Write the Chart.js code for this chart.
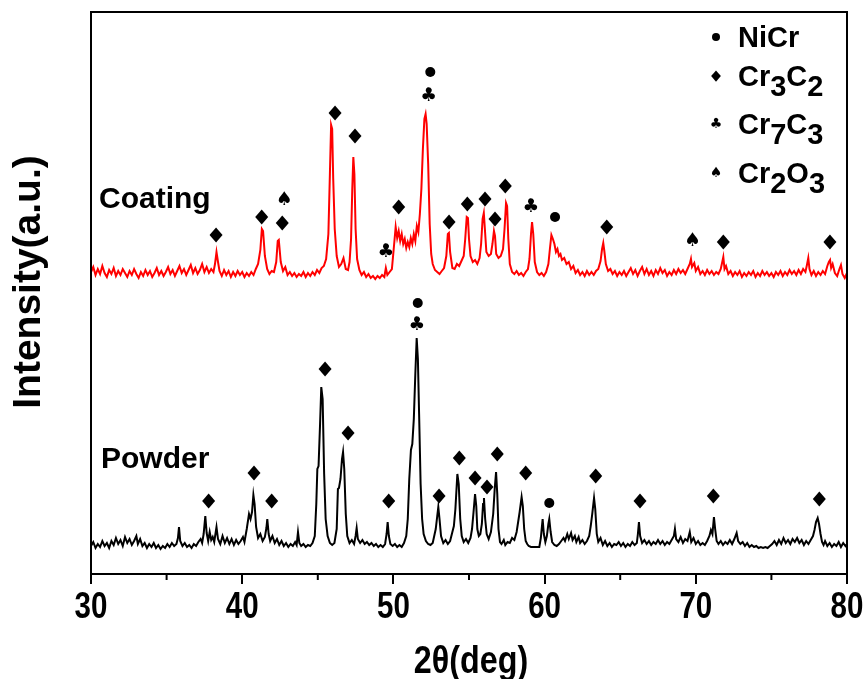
<!DOCTYPE html>
<html>
<head>
<meta charset="utf-8">
<script src="https://cdn.jsdelivr.net/npm/chart.js@4.4.1/dist/chart.umd.min.js"></script>
<style>
html,body{margin:0;padding:0;background:#fff;}
#wrap{width:864px;height:679px;}
</style>
</head>
<body>
<div id="wrap"><canvas id="c" width="864" height="679"></canvas></div>
<script>
// ---- DATA (2θ in degrees, intensity in arbitrary units) ----
const xTicks = [30, 40, 50, 60, 70, 80];
const xMinorTicks = [35, 45, 55, 65, 75];
const seriesNames = ['Coating', 'Powder'];
const xTitle = '2\u03b8(deg)';
const yTitle = 'Intensity(a.u.)';

const coatingData = [
[30.0,302],[30.15,307],[30.3,299],[30.45,305],[30.6,300],[30.75,308],[30.9,301],[31.05,297],[31.2,304],[31.35,300],
[31.5,306],[31.65,298],[31.8,303],[31.95,299],[32.1,305],[32.25,301],[32.4,297],[32.55,303],[32.7,299],[32.85,305],
[33.0,300],[33.15,296],[33.3,302],[33.45,298],[33.6,304],[33.75,299],[33.9,303],[34.05,297],[34.2,301],[34.35,306],
[34.5,299],[34.65,303],[34.8,298],[34.95,302],[35.1,307],[35.25,300],[35.4,304],[35.55,298],[35.7,303],[35.85,308],
[36.0,301],[36.15,305],[36.3,299],[36.45,304],[36.6,309],[36.75,301],[36.9,306],[37.05,300],[37.2,304],[37.35,310],
[37.5,302],[37.65,307],[37.8,301],[37.95,305],[38.1,302],[38.2,310],[38.3,322],[38.4,312],[38.5,303],[38.65,298],
[38.8,304],[38.95,299],[39.1,303],[39.25,297],[39.4,302],[39.55,298],[39.7,303],[39.85,299],[40.0,302],[40.15,297],
[40.3,301],[40.45,298],[40.6,302],[40.75,299],[40.9,305],[41.05,310],[41.2,324],[41.3,345],[41.38,343],[41.5,318],
[41.65,305],[41.8,300],[41.95,303],[42.1,302],[42.25,312],[42.35,333],[42.42,334],[42.55,312],[42.7,303],[42.85,307],
[43.0,299],[43.15,302],[43.3,298],[43.45,301],[43.6,297],[43.75,300],[43.9,298],[44.05,302],[44.2,297],[44.35,301],
[44.5,298],[44.65,302],[44.8,299],[44.95,304],[45.1,301],[45.25,306],[45.4,308],[45.55,315],[45.7,340],[45.8,400],
[45.88,449],[45.95,445],[46.02,395],[46.12,345],[46.25,318],[46.4,307],[46.55,310],[46.7,316],[46.85,305],[47.0,304],
[47.1,312],[47.2,335],[47.28,385],[47.35,417],[47.42,400],[47.5,345],[47.6,315],[47.75,304],[47.9,299],[48.05,302],
[48.2,297],[48.35,300],[48.5,296],[48.65,298],[48.8,295],[48.95,298],[49.1,296],[49.25,299],[49.4,297],[49.5,306],
[49.6,299],[49.75,302],[49.9,305],[50.05,330],[50.15,347],[50.25,336],[50.35,343],[50.45,333],[50.55,340],[50.65,330],
[50.75,335],[50.85,326],[50.95,332],[51.05,327],[51.15,336],[51.25,330],[51.35,340],[51.45,333],[51.55,348],[51.65,342],
[51.75,360],[51.85,385],[51.95,425],[52.05,455],[52.13,460],[52.2,450],[52.3,410],[52.4,350],[52.5,320],[52.6,310],
[52.75,304],[52.9,302],[53.05,300],[53.2,303],[53.35,306],[53.5,318],[53.6,340],[53.67,341],[53.75,322],[53.9,306],
[54.05,305],[54.2,310],[54.35,308],[54.5,313],[54.65,318],[54.75,335],[54.85,357],[54.93,356],[55.0,335],[55.1,318],
[55.25,312],[55.4,314],[55.55,310],[55.7,316],[55.8,330],[55.9,355],[55.98,361],[56.05,345],[56.15,322],[56.3,318],
[56.45,320],[56.55,330],[56.65,343],[56.72,338],[56.8,320],[56.95,316],[57.1,318],[57.25,325],[57.35,345],[57.45,371],
[57.52,368],[57.6,335],[57.7,310],[57.85,302],[58.0,300],[58.15,303],[58.3,299],[58.45,301],[58.6,298],[58.75,302],
[58.9,305],[59.0,315],[59.1,340],[59.17,352],[59.25,340],[59.35,312],[59.5,302],[59.65,299],[59.8,301],[59.95,298],
[60.1,302],[60.25,310],[60.35,325],[60.45,339],[60.55,335],[60.65,330],[60.75,322],[60.85,325],[60.95,318],[61.05,320],
[61.15,314],[61.3,316],[61.45,310],[61.6,312],[61.75,305],[61.9,308],[62.05,301],[62.2,304],[62.35,299],[62.5,302],
[62.65,298],[62.8,303],[62.95,299],[63.1,302],[63.25,299],[63.4,303],[63.55,305],[63.7,313],[63.8,325],[63.88,331],
[63.95,323],[64.05,310],[64.2,303],[64.35,305],[64.5,300],[64.65,303],[64.8,298],[64.95,302],[65.1,299],[65.25,303],
[65.4,298],[65.55,302],[65.7,306],[65.85,300],[66.0,304],[66.15,298],[66.3,303],[66.45,307],[66.6,300],[66.75,305],
[66.9,299],[67.05,303],[67.2,298],[67.35,304],[67.5,300],[67.65,306],[67.8,301],[67.95,304],[68.1,298],[68.25,302],
[68.4,299],[68.55,304],[68.7,300],[68.85,305],[69.0,301],[69.15,304],[69.3,300],[69.45,305],[69.6,310],[69.68,315],
[69.75,307],[69.9,311],[70.0,303],[70.15,307],[70.3,300],[70.45,303],[70.6,299],[70.75,304],[70.9,300],[71.05,303],
[71.2,299],[71.35,302],[71.5,300],[71.65,305],[71.75,312],[71.82,317],[71.9,305],[72.0,308],[72.15,300],[72.3,303],
[72.45,298],[72.6,302],[72.75,299],[72.9,303],[73.05,297],[73.2,301],[73.35,298],[73.5,302],[73.65,299],[73.8,303],
[73.95,297],[74.1,301],[74.25,298],[74.4,303],[74.55,299],[74.7,302],[74.85,298],[75.0,301],[75.15,297],[75.3,302],
[75.45,299],[75.6,303],[75.75,298],[75.9,302],[76.05,299],[76.2,304],[76.35,300],[76.5,303],[76.65,299],[76.8,304],
[76.95,300],[77.1,305],[77.25,302],[77.35,309],[77.44,316],[77.52,305],[77.65,299],[77.8,303],[77.95,298],[78.1,302],
[78.25,299],[78.4,303],[78.55,300],[78.7,308],[78.8,312],[78.88,314],[78.95,306],[79.05,310],[79.2,301],[79.35,298],
[79.5,305],[79.6,309],[79.7,300],[79.85,296],[80.0,301]
];

const powderData = [
[30.0,28],[30.15,32],[30.3,26],[30.45,30],[30.6,27],[30.75,33],[30.9,28],[31.05,31],[31.2,26],[31.35,33],
[31.5,29],[31.65,36],[31.8,30],[31.95,34],[32.1,28],[32.25,37],[32.4,31],[32.55,35],[32.7,29],[32.85,33],
[33.0,38],[33.1,30],[33.25,35],[33.4,28],[33.55,31],[33.7,26],[33.85,30],[34.0,27],[34.15,31],[34.3,26],
[34.45,29],[34.6,25],[34.75,28],[34.9,26],[35.05,30],[35.2,27],[35.35,31],[35.5,28],[35.65,30],[35.75,36],
[35.82,47],[35.9,33],[36.05,28],[36.2,31],[36.35,27],[36.5,29],[36.65,26],[36.8,30],[36.95,28],[37.1,32],
[37.25,35],[37.35,31],[37.45,40],[37.56,58],[37.65,41],[37.75,33],[37.85,42],[37.95,34],[38.05,37],[38.15,32],
[38.3,47],[38.4,35],[38.55,30],[38.7,38],[38.85,31],[39.0,36],[39.15,30],[39.3,35],[39.45,29],[39.6,34],
[39.75,30],[39.9,33],[40.05,37],[40.15,32],[40.3,45],[40.45,60],[40.55,55],[40.65,62],[40.74,79],[40.82,70],
[40.92,47],[41.05,36],[41.2,40],[41.35,33],[41.5,37],[41.6,46],[41.66,55],[41.75,40],[41.85,33],[42.0,38],
[42.15,31],[42.3,35],[42.45,29],[42.6,33],[42.75,28],[42.9,31],[43.05,27],[43.2,30],[43.35,28],[43.5,32],
[43.6,29],[43.69,42],[43.78,31],[43.9,28],[44.05,30],[44.2,27],[44.35,29],[44.5,28],[44.65,31],[44.8,38],
[44.9,70],[44.97,105],[45.05,108],[45.15,150],[45.23,187],[45.32,175],[45.42,100],[45.52,55],[45.65,38],[45.8,31],
[45.95,29],[46.1,31],[46.25,45],[46.33,85],[46.4,86],[46.5,95],[46.6,115],[46.67,122],[46.75,105],[46.85,60],
[46.95,38],[47.1,31],[47.25,34],[47.4,30],[47.5,38],[47.57,46],[47.65,35],[47.8,31],[47.95,34],[48.1,30],
[48.25,32],[48.4,29],[48.55,31],[48.7,28],[48.85,30],[49.0,27],[49.15,29],[49.3,27],[49.45,30],[49.55,40],
[49.62,52],[49.7,38],[49.8,30],[49.95,28],[50.1,30],[50.25,27],[50.4,29],[50.55,27],[50.7,31],[50.85,38],
[50.95,55],[51.05,95],[51.16,124],[51.25,130],[51.35,155],[51.45,200],[51.54,236],[51.62,215],[51.7,160],[51.8,90],
[51.9,55],[52.0,40],[52.15,33],[52.3,30],[52.45,29],[52.6,31],[52.7,38],[52.8,45],[52.9,58],[52.97,67],
[53.05,55],[53.15,38],[53.3,31],[53.45,34],[53.6,30],[53.75,33],[53.9,42],[54.0,48],[54.1,65],[54.23,100],
[54.32,90],[54.42,55],[54.52,38],[54.65,32],[54.8,35],[54.95,31],[55.1,36],[55.2,45],[55.3,62],[55.4,80],
[55.48,68],[55.55,45],[55.65,38],[55.75,40],[55.85,50],[55.93,70],[55.99,76],[56.07,55],[56.17,40],[56.3,35],
[56.45,42],[56.6,60],[56.7,85],[56.79,102],[56.87,80],[56.95,45],[57.05,32],[57.15,30],[57.3,34],[57.4,29],
[57.55,32],[57.7,31],[57.85,36],[58.0,34],[58.15,42],[58.25,52],[58.35,62],[58.48,77],[58.56,68],[58.65,45],
[58.75,33],[58.85,30],[58.95,28],[59.1,27],[59.3,27],[59.5,27],[59.65,27],[59.75,36],[59.87,55],[59.95,40],
[60.05,32],[60.15,38],[60.25,50],[60.31,55],[60.4,42],[60.5,32],[60.65,29],[60.8,28],[60.95,30],[61.1,33],
[61.25,36],[61.35,33],[61.5,40],[61.6,35],[61.75,41],[61.85,34],[62.0,38],[62.1,32],[62.25,37],[62.35,31],
[62.5,34],[62.65,30],[62.8,33],[62.95,38],[63.05,48],[63.15,60],[63.27,76],[63.35,65],[63.45,40],[63.55,32],
[63.7,36],[63.85,29],[64.0,33],[64.15,28],[64.3,31],[64.45,27],[64.6,30],[64.75,29],[64.9,32],[65.05,28],
[65.2,31],[65.35,27],[65.5,30],[65.65,28],[65.8,32],[65.95,29],[66.1,31],[66.17,40],[66.24,52],[66.32,38],
[66.45,31],[66.6,34],[66.75,30],[66.9,33],[67.05,29],[67.2,32],[67.35,30],[67.5,34],[67.65,30],[67.8,33],
[67.95,29],[68.1,32],[68.25,30],[68.4,34],[68.55,38],[68.62,45],[68.7,35],[68.85,32],[69.0,37],[69.15,31],
[69.3,35],[69.45,33],[69.6,42],[69.7,32],[69.85,36],[70.0,30],[70.15,33],[70.3,29],[70.45,31],[70.6,29],
[70.75,33],[70.9,38],[71.0,44],[71.1,40],[71.2,57],[71.28,45],[71.38,33],[71.5,30],[71.65,33],[71.8,29],
[71.95,32],[72.1,30],[72.25,34],[72.4,30],[72.55,35],[72.7,41],[72.8,33],[72.95,30],[73.1,32],[73.25,28],
[73.4,31],[73.55,27],[73.7,29],[73.85,27],[74.0,28],[74.15,26],[74.3,27],[74.45,26],[74.6,27],[74.75,26],
[74.9,28],[75.05,30],[75.2,33],[75.35,29],[75.5,34],[75.65,30],[75.8,36],[75.95,31],[76.1,34],[76.25,30],
[76.4,35],[76.55,32],[76.7,36],[76.85,31],[77.0,34],[77.15,29],[77.3,33],[77.45,30],[77.6,34],[77.75,38],
[77.85,44],[77.95,52],[78.06,56],[78.15,50],[78.25,40],[78.35,32],[78.45,29],[78.55,33],[78.7,28],[78.85,31],
[79.0,27],[79.15,30],[79.3,28],[79.45,32],[79.6,27],[79.75,31],[79.9,28],[80.0,30]
];

// phase markers: [symbol, 2θ, intensity position]  d=Cr3C2, o=NiCr, c=Cr7C3, s=Cr2O3
const coatingMarkers = [
['d',38.27,339],['d',41.29,357],['d',42.65,351],['s',42.78,374],['d',46.14,461],['d',47.46,438],
['c',49.49,322],['d',50.35,367],['c',52.33,478],['o',52.44,502],['d',53.68,352],['d',54.89,370],
['d',56.06,375],['d',56.72,355],['d',57.40,388],['c',59.08,367],['o',60.69,357],['d',64.11,347],
['s',69.79,333],['d',71.82,332],['d',78.87,332]
];
const powderMarkers = [
['d',37.78,73],['d',40.78,101],['d',41.95,73],['d',45.48,205],['d',47.0,141],['d',49.69,73],
['o',51.61,271],['c',51.54,249],['d',53.02,78],['d',54.36,116],['d',55.40,96],['d',56.19,87],
['d',56.87,120],['d',58.75,101],['o',60.31,71],['d',63.38,98],['d',66.31,73],['d',71.16,78],['d',78.17,75]
];
// series labels: [text, 2θ, intensity]
const seriesLabels = [['Coating',30.53,366],['Powder',30.66,106]];
// legend: symbol + formula segments [text, isSubscript]
const legendItems = [
['o',[['NiCr',0]]],
['d',[['Cr',0],['3',1],['C',0],['2',1]]],
['c',[['Cr',0],['7',1],['C',0],['3',1]]],
['s',[['Cr',0],['2',1],['O',0],['3',1]]]
];

// ---- drawing helpers ----
const SANS = "'Liberation Sans', Arial, sans-serif";
function drawSym(ctx, kind, px, py, s){
  ctx.fillStyle = '#000';
  if (kind === 'd'){
    ctx.beginPath();
    ctx.moveTo(px, py-7.5*s); ctx.lineTo(px+6.5*s, py); ctx.lineTo(px, py+7.5*s); ctx.lineTo(px-6.5*s, py);
    ctx.closePath(); ctx.fill();
  } else if (kind === 'o'){
    ctx.beginPath(); ctx.arc(px, py, 5*s, 0, Math.PI*2); ctx.fill();
  } else {
    ctx.font = Math.round(19*s) + "px 'DejaVu Sans'";
    ctx.textAlign = 'center'; ctx.textBaseline = 'middle';
    ctx.fillText(kind === 'c' ? '\u2663' : '\u2660', px, py);
  }
}
// condensed text (narrow bold face imitation)
function narrowText(ctx, txt, cx, cy, size, sx){
  ctx.save();
  ctx.translate(cx, cy);
  ctx.scale(sx, 1);
  ctx.font = 'bold ' + size + 'px ' + SANS;
  ctx.textAlign = 'center'; ctx.textBaseline = 'middle';
  ctx.fillStyle = '#000';
  ctx.fillText(txt, 0, 0);
  ctx.restore();
}

const annotate = {
  id: 'annotate',
  afterDraw(chart){
    const {ctx, chartArea: a, scales: {x, y}} = chart;
    ctx.save();
    ctx.strokeStyle = '#000'; ctx.lineWidth = 2;
    ctx.strokeRect(a.left, a.top, a.right - a.left, a.bottom - a.top);
    // minor ticks
    xMinorTicks.forEach(t => {
      const px = x.getPixelForValue(t);
      ctx.beginPath(); ctx.moveTo(px, a.bottom); ctx.lineTo(px, a.bottom + 6); ctx.stroke();
    });
    // tick labels
    xTicks.forEach(t => narrowText(ctx, String(t), x.getPixelForValue(t), a.bottom + 34, 36, 0.82));
    // axis titles
    narrowText(ctx, xTitle, (a.left + a.right) / 2 + 2, 663, 38, 0.85);
    ctx.save();
    ctx.translate(29, 282);
    ctx.rotate(-Math.PI / 2);
    ctx.font = 'bold 39px ' + SANS;
    ctx.textAlign = 'center'; ctx.textBaseline = 'middle'; ctx.fillStyle = '#000';
    ctx.fillText(yTitle, 0, 0);
    ctx.restore();
    // phase markers
    [...coatingMarkers, ...powderMarkers].forEach(m => {
      drawSym(ctx, m[0], x.getPixelForValue(m[1]), y.getPixelForValue(m[2]), 1);
    });
    // series labels
    ctx.fillStyle = '#000';
    ctx.font = 'bold 30px ' + SANS;
    ctx.textAlign = 'left'; ctx.textBaseline = 'alphabetic';
    seriesLabels.forEach(l => ctx.fillText(l[0], x.getPixelForValue(l[1]), y.getPixelForValue(l[2])));
    // legend
    const baselines = [47, 86, 134, 183];
    legendItems.forEach((it, i) => {
      const bl = baselines[i];
      drawSym(ctx, it[0], 716, bl - 10, it[0] === 'o' ? 0.8 : 0.75);
      ctx.font = 'bold 29px ' + SANS;
      ctx.textAlign = 'left'; ctx.textBaseline = 'alphabetic'; ctx.fillStyle = '#000';
      let cx = 738;
      it[1].forEach(seg => {
        ctx.fillText(seg[0], cx, bl + (seg[1] ? 10 : 0));
        cx += ctx.measureText(seg[0]).width;
      });
    });
    ctx.restore();
  }
};

const toPts = arr => arr.map(p => ({x: p[0], y: p[1]}));

new Chart(document.getElementById('c'), {
  type: 'line',
  data: {
    datasets: [
      {label: seriesNames[0], data: toPts(coatingData), borderColor: '#ff0000', borderWidth: 2, pointRadius: 0, tension: 0, fill: false},
      {label: seriesNames[1], data: toPts(powderData), borderColor: '#000000', borderWidth: 2, pointRadius: 0, tension: 0, fill: false}
    ]
  },
  options: {
    responsive: false,
    animation: false,
    layout: {padding: {top: 12, right: 17, left: 0, bottom: 0}},
    plugins: {legend: {display: false}, tooltip: {enabled: false}},
    scales: {
      x: {
        type: 'linear', min: 30, max: 80,
        afterBuildTicks: s => { s.ticks = xTicks.map(v => ({value: v})); },
        ticks: {display: false},
        grid: {drawOnChartArea: false, drawTicks: true, tickLength: 10, color: '#000', lineWidth: 2},
        border: {color: '#000', width: 2},
        afterFit: s => { s.height = 105; }
      },
      y: {
        type: 'linear', min: 0, max: 562,
        ticks: {display: false},
        grid: {display: false, drawTicks: false},
        border: {color: '#000', width: 2},
        afterFit: s => { s.width = 91; }
      }
    }
  },
  plugins: [annotate]
});
</script>
</body>
</html>
